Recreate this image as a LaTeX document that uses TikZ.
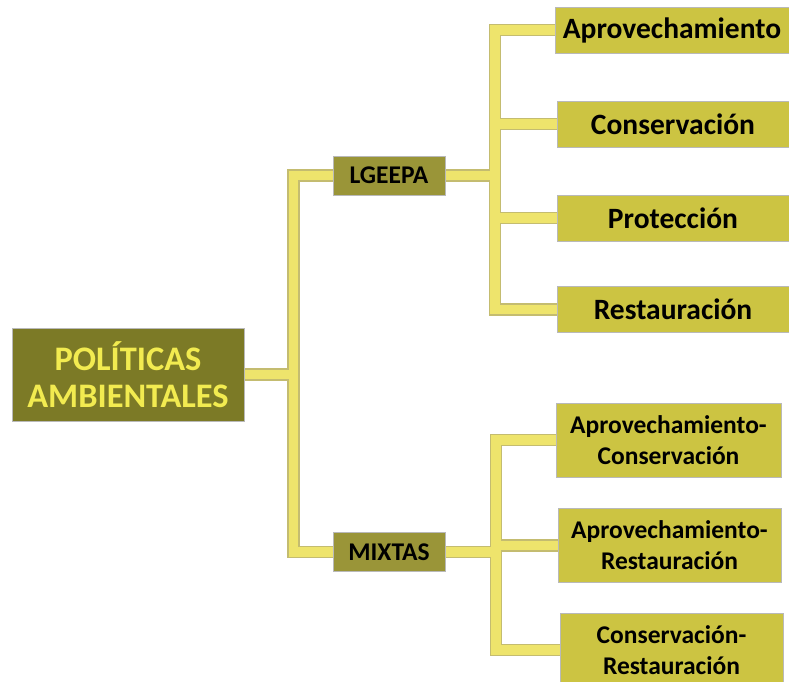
\documentclass[tikz,border=0pt]{standalone}
\usepackage{fontspec}
\setmainfont{Carlito}
\usepackage{tikz}
\usepackage{xcolor}
\usetikzlibrary{backgrounds}
\definecolor{politicolive}{RGB}{124,122,38}
\definecolor{lawolive}{RGB}{154,149,56}
\definecolor{leafolive}{RGB}{204,196,66}
\definecolor{titleyellow}{RGB}{242,235,80}
\definecolor{branchyellow}{RGB}{238,228,108}
\definecolor{branchedge}{RGB}{196,188,112}

\tikzset{
  box/.style={rectangle, draw=gray!55, line width=0.8, inner sep=0pt, align=center, font=\bfseries},
  polbox/.style={box, fill=politicolive, text=titleyellow, font=\bfseries\fontsize{34.4}{37}\selectfont},
  lawbox/.style={box, fill=lawolive, text=black, minimum width=112, minimum height=39, font=\bfseries\fontsize{25.5}{27}\selectfont},
  leafbox/.style={box, fill=leafolive, text=black, minimum height=46, font=\bfseries\fontsize{29.5}{31}\selectfont},
  pairbox/.style={box, fill=leafolive, text=black, minimum height=74, font=\bfseries\fontsize{25.5}{31}\selectfont}
}

\begin{document}
\begin{tikzpicture}[x=1pt, y=-1pt]
    \useasboundingbox (0,0) rectangle (789,681);

    % Root
    \node[polbox, minimum width=232, minimum height=93] (pol) at (128,374.5) {POLÍTICAS\\AMBIENTALES};

    % Second level
    \node[lawbox] (lge) at (389,175.5) {LGEEPA};
    \node[lawbox] (mix) at (389,552) {MIXTAS};

    % LGEEPA policies
    \node[leafbox, minimum width=234] (apr) at (672,30) {Aprovechamiento};
    \node[leafbox, minimum width=232] (con) at (673,124) {Conservación};
    \node[leafbox, minimum width=232] (pro) at (673,218) {Protección};
    \node[leafbox, minimum width=232] (res) at (673,309.5) {Restauración};

    % Mixed policies
    \node[pairbox, minimum width=225] (aprcon) at (668.5,440) {Aprovechamiento-\\Conservación};
    \node[pairbox, minimum width=223] (aprres) at (669.5,545.5) {Aprovechamiento-\\Restauración};
    \node[pairbox, minimum width=223] (conres) at (671.5,650) {Conservación-\\Restauración};

    % Branches: edge first, then the yellow inside
    \begin{scope}[on background layer]
    \foreach \w/\c in {12.5/branchedge, 9.5/branchyellow} {
        \draw[line width=\w, draw=\c, line cap=rect] (pol.east) -- ++(49,0) coordinate (j1);
        \draw[line width=\w, draw=\c] (lge.west) -| (j1) |- (mix.west);
        \draw[line width=\w, draw=\c, line cap=rect] (lge.east) -- (495,175.5) coordinate (j2);
        \draw[line width=\w, draw=\c] (apr.west) -| (j2) |- (res.west);
        \draw[line width=\w, draw=\c, line cap=rect] (j2|-con.west) -- (con.west);
        \draw[line width=\w, draw=\c, line cap=rect] (j2|-pro.west) -- (pro.west);
        \draw[line width=\w, draw=\c, line cap=rect] (mix.east) -- (496,552) coordinate (j3);
        \draw[line width=\w, draw=\c] (aprcon.west) -| (j3) |- (conres.west);
        \draw[line width=\w, draw=\c, line cap=rect] (j3|-aprres.west) -- (aprres.west);
    }
    \end{scope}
\end{tikzpicture}
\end{document}
